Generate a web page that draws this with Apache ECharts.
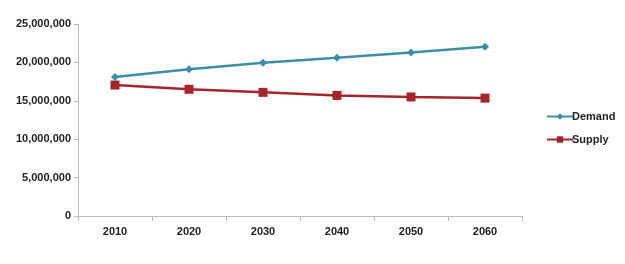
<!DOCTYPE html>
<html><head><meta charset="utf-8">
<script src="https://cdn.jsdelivr.net/npm/echarts@6/dist/echarts.min.js"></script>
<style>html,body{margin:0;padding:0;background:#fff}#c{width:625px;height:264px}</style>
</head><body><div id="c"></div>
<script>
var years = ['2010','2020','2030','2040','2050','2060'];
var demand = [18100000, 19100000, 19950000, 20600000, 21300000, 22050000];
var supply = [17050000, 16500000, 16100000, 15700000, 15500000, 15350000];
var yTicks = [0, 5000000, 10000000, 15000000, 20000000, 25000000];

var font = '"Liberation Sans Narrow", "Liberation Sans", Arial, sans-serif';
var chart = echarts.init(document.getElementById('c'), null, {renderer:'canvas'});
chart.setOption({
  animation:false,
  backgroundColor:'#fff',
  grid:{left:78, right:103, top:24, bottom:48, containLabel:false},
  legend:{
    orient:'vertical', left:541, top:106, itemGap:12, itemWidth:26, itemHeight:8,
    textStyle:{fontFamily:font, fontWeight:'bold', fontSize:11, color:'#222', padding:[0,0,0,-6]},
    data:['Demand','Supply']
  },
  xAxis:{
    type:'category', data:years, boundaryGap:true,
    axisLine:{lineStyle:{color:'#bbb', width:1}},
    axisTick:{show:true, alignWithLabel:false, length:5, lineStyle:{color:'#bbb'}},
    axisLabel:{fontFamily:font, fontWeight:'bold', fontSize:11, color:'#222', margin:10},
    splitLine:{show:false}
  },
  yAxis:{
    type:'value', min:yTicks[0], max:yTicks[yTicks.length-1], interval:5000000,
    axisLine:{show:true, lineStyle:{color:'#bbb'}},
    axisTick:{show:true, length:4, lineStyle:{color:'#bbb'}},
    axisLabel:{fontFamily:font, fontWeight:'bold', fontSize:11, color:'#222', margin:7,
      formatter:function(v){return v.toLocaleString('en-US');}},
    splitLine:{show:false}
  },
  series:[
    {name:'Demand', type:'line', data:demand, symbol:'diamond', symbolSize:8,
     lineStyle:{color:'#3f8ea8', width:2.5}, itemStyle:{color:'#3f8ea8'}},
    {name:'Supply', type:'line', data:supply, symbol:'rect', symbolSize:9,
     lineStyle:{color:'#a8242c', width:2.5}, itemStyle:{color:'#a8242c'}}
  ]
});
</script></body></html>
